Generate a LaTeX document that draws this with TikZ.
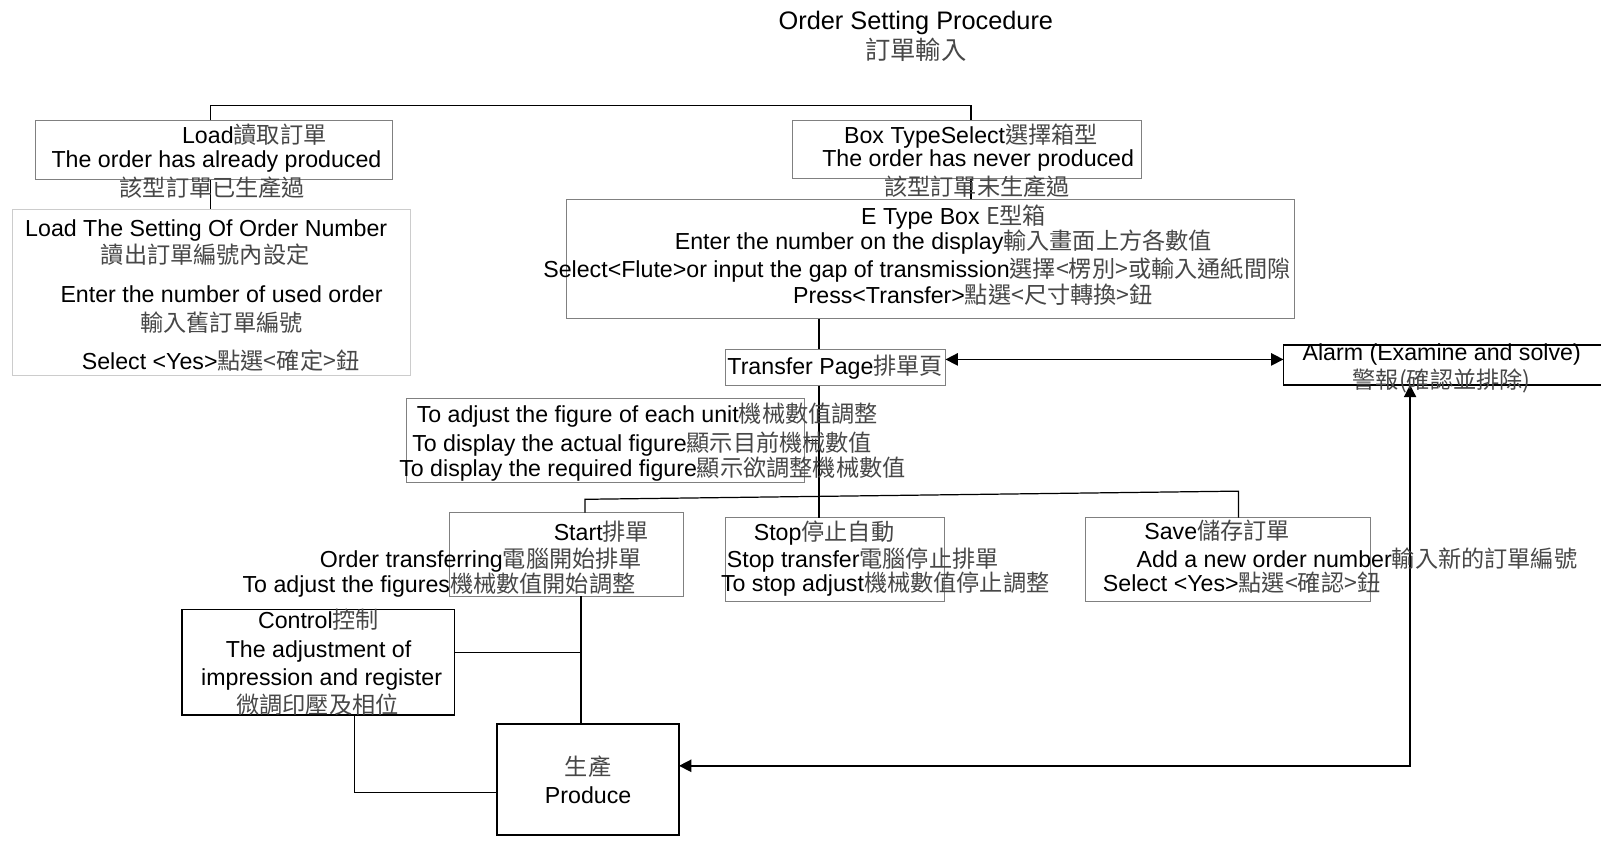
\documentclass[tikz,border=0pt]{standalone}
\usepackage{fontspec}
\setmainfont{Liberation Sans}
\newfontfamily\cjk{Noto Sans CJK TC}
\newcommand\zh[1]{{\cjk\color{black!72}#1}}
\usetikzlibrary{arrows.meta}

\begin{document}
\begin{tikzpicture}[x=0.5pt, y=-0.5pt,
  box/.style={draw=gray, line width=0.5pt, inner sep=0pt, outer sep=0pt},
  pbox/.style={draw=gray!40, line width=0.5pt, inner sep=0pt, outer sep=0pt},
  kbox/.style={draw=black, line width=0.8pt, inner sep=0pt, outer sep=0pt},
  txt/.style={inner sep=0pt, text height=9.5pt, text depth=1pt, font=\fontsize{11.35pt}{13pt}\selectfont},
  ttl/.style={inner sep=0pt, text height=9.5pt, text depth=1pt, font=\fontsize{12.4pt}{14pt}\selectfont},
  line/.style={line width=0.6pt},
  arr/.style={line width=0.75pt, {Triangle[length=6pt,width=6pt]}-{Triangle[length=6pt,width=6pt]}}]
\useasboundingbox (0,0) rectangle (1568,826);

% boxes
\node[box, minimum width=174.5pt, minimum height=29pt] (load) at (209.5,147) {};
\node[pbox, minimum width=195pt, minimum height=81.5pt] (loadset) at (207,286.5) {};
\node[box, minimum width=171pt, minimum height=28.5pt] (boxtype) at (947,146.5) {};
\node[box, minimum width=356.5pt, minimum height=58.5pt] (etype) at (911.5,253.5) {};
\node[box, minimum width=107.5pt, minimum height=18pt] (transfer) at (818.5,360) {};
\node[kbox, minimum width=160pt, minimum height=19.5pt] (alarm) at (1417,357.5) {};
\node[box, minimum width=195pt, minimum height=41.5pt] (adjust) at (593,431.5) {};
\node[box, minimum width=114.5pt, minimum height=41pt] (start) at (554.5,543) {};
\node[box, minimum width=107pt, minimum height=41pt] (stop) at (818,548) {};
\node[box, minimum width=139.5pt, minimum height=41pt] (save) at (1202.5,548) {};
\node[kbox, minimum width=133.5pt, minimum height=51.5pt] (control) at (311.5,648.5) {};
\node[kbox, minimum width=89pt, minimum height=54.5pt] (produce) at (576,763.5) {};

% turning points
\coordinate (topL) at (206,103);
\coordinate (topR) at (951,103);
\coordinate (spine) at (802,0);
\coordinate (arrY) at (0,352);
\coordinate (brL) at (573,489);
\coordinate (brR) at (1213,481);
\coordinate (join) at (569,639);
\coordinate (ctrlB) at (347,776);
\coordinate (alarmC) at (1381,750);

% connectors
\draw[line] (load.north -| topL) -- (topL) -- (topR) -- (boxtype.north -| topR);
\draw[line] (load.south -| topL) -- (loadset.north -| topL);
\draw[line] (boxtype.south -| topR) -- (etype.north -| topR);
\draw[line] (etype.south -| spine) -- (transfer.north -| spine);
\draw[line] (transfer.south -| spine) -- (stop.north -| spine);
\draw[line] (adjust.east) -- (adjust.east -| spine);
\draw[line] (start.north -| brL) -- (brL) -- (brR) -- (save.north -| brR);
\draw[line] (start.south -| join) -- (produce.north -| join);
\draw[line] (control.east |- join) -- (join);
\draw[line] (control.south -| ctrlB) -- (ctrlB) -- (produce.west |- ctrlB);
\draw[arr] (transfer.east |- arrY) -- (alarm.west |- arrY);
\draw[arr] (produce.east |- alarmC) -- (alarmC) -- (alarm.south -| alarmC);

% texts
\node[ttl] (title) at (897,20) {Order Setting Procedure};
\node[ttl] (titlezh) at (897,50) {\zh{訂單輸入}};

\node[txt] (loadA) at (249,132) {Load\zh{讀取訂單}};
\node[txt] (loadB) at (212,156) {The order has already produced};
\node[txt] (loadC) at (208,184) {\zh{該型訂單已生產過}};

\node[txt] (setA) at (202,223) {Load The Setting Of Order Number};
\node[txt] (setB) at (201,250) {\zh{讀出訂單編號內設定}};
\node[txt] (setC) at (217,288) {Enter the number of used order};
\node[txt] (setD) at (217,316) {\zh{輸入舊訂單編號}};
\node[txt] (setE) at (216,353) {Select <Yes>\zh{點選<確定>鈕}};

\node[txt] (typeA) at (951,132) {Box TypeSelect\zh{選擇箱型}};
\node[txt] (typeB) at (958,155) {The order has never produced};
\node[txt] (typeC) at (957,183) {\zh{該型訂單未生產過}};

\node[txt] (eA) at (934,211) {E Type Box \zh{E型箱}};
\node[txt] (eB) at (924,236) {Enter the number on the display\zh{輸入畫面上方各數值}};
\node[txt] (eC) at (898,263) {Select<Flute>or input the gap of transmission\zh{選擇<楞別>或輸入通紙間隙}};
\node[txt] (eD) at (953,289) {Press<Transfer>\zh{點選<尺寸轉換>鈕}};

\node[txt] (trA) at (818,358) {Transfer Page\zh{排單頁}};

\node[txt] (alA) at (1412,345) {Alarm (Examine and solve)};
\node[txt] (alB) at (1412,372) {\zh{警報(確認並排除)}};

\node[txt] (adA) at (634,405) {To adjust the figure of each unit\zh{機械數值調整}};
\node[txt] (adB) at (629,434) {To display the actual figure\zh{顯示目前機械數值}};
\node[txt] (adC) at (639,458) {To display the required figure\zh{顯示欲調整機械數值}};

\node[txt] (stA) at (589,521) {Start\zh{排單}};
\node[txt] (stB) at (471,547) {Order transferring\zh{電腦開始排單}};
\node[txt] (stC) at (430,572) {To adjust the figures\zh{機械數值開始調整}};

\node[txt] (spA) at (807,521) {Stop\zh{停止自動}};
\node[txt] (spB) at (845,547) {Stop transfer\zh{電腦停止排單}};
\node[txt] (spC) at (867,571) {To stop adjust\zh{機械數值停止調整}};

\node[txt] (svA) at (1192,520) {Save\zh{儲存訂單}};
\node[txt] (svB) at (1329,547) {Add a new order number\zh{輸入新的訂單編號}};
\node[txt] (svC) at (1216,571) {Select <Yes>\zh{點選<確認>鈕}};

\node[txt] (ctA) at (312,607) {Control\zh{控制}};
\node[txt] (ctB) at (312,635) {The adjustment of};
\node[txt] (ctC) at (315,663) {impression and register};
\node[txt] (ctD) at (311,690) {\zh{微調印壓及相位}};

\node[txt] (prA) at (576,751) {\zh{生產}};
\node[txt] (prB) at (576,778) {Produce};
\end{tikzpicture}
\end{document}
